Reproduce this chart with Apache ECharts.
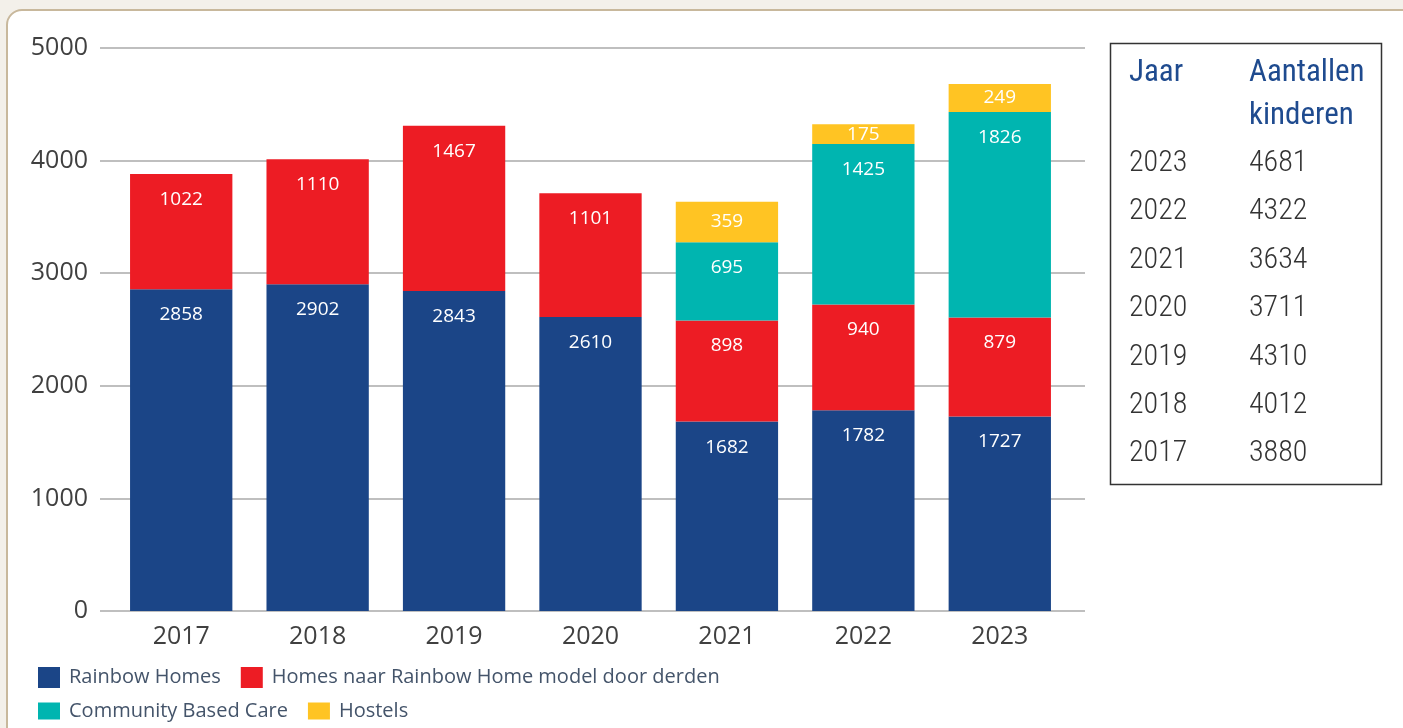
<!DOCTYPE html>
<html>
<head>
<meta charset="utf-8">
<script src="https://cdn.jsdelivr.net/npm/echarts@6/dist/echarts.min.js"></script>
<style>
  html, body { margin: 0; padding: 0; background: #f3f0ea; overflow: hidden; }
  #panel {
    position: absolute; left: 6px; top: 9px; width: 1420px; height: 740px;
    background: #fff; border: 2px solid #c8b89c; border-radius: 16px;
  }
  #main { position: absolute; left: 0; top: 0; width: 1403px; height: 728px; }
</style>
</head>
<body>
<div id="panel"></div>
<div id="main"></div>
<script>
// categorieen (jaren)
var years = ['2017', '2018', '2019', '2020', '2021', '2022', '2023'];
// aantallen per type opvang
var rainbowHomes = [2858, 2902, 2843, 2610, 1682, 1782, 1727];
var homesDerden = [1022, 1110, 1467, 1101, 898, 940, 879];
var communityCare = [null, null, null, null, 695, 1425, 1826];
var hostels = [null, null, null, null, 359, 175, 249];
// tabel rechts
var tableYears = ['2023', '2022', '2021', '2020', '2019', '2018', '2017'];
var tableTotals = [4681, 4322, 3634, 3711, 4310, 4012, 3880];

var seriesNames = ['Rainbow Homes', 'Homes naar Rainbow Home model door derden', 'Community Based Care', 'Hostels'];
var colors = ['#1b4587', '#ed1c24', '#00b5b0', '#ffc423'];

var myChart = echarts.init(document.getElementById('main'));

function barSeries(i, data, pos) {
    return {
        name: seriesNames[i],
        type: 'bar',
        stack: 'totaal',
        xAxisIndex: 1,
        yAxisIndex: 1,
        data: data,
        barWidth: '75%',
        itemStyle: { color: colors[i] },
        label: {
            show: true,
            position: pos,
            distance: 16,
            color: '#fff',
            fontSize: 19,
            fontFamily: 'Open Sans'
        }
    };
}

// tabel als graphic elementen
var tblFont = '"Roboto Condensed", "Liberation Sans Narrow", "DejaVu Sans Condensed", sans-serif';
var tableEls = [
    { type: 'rect', shape: { x: 1110.5, y: 43.5, width: 271, height: 441 },
      style: { fill: '#fff', stroke: '#333', lineWidth: 1.5 } },
    { type: 'text', x: 1129, y: 73, style: { text: 'Jaar', fill: '#1f4b8f', font: '31px ' + tblFont, verticalAlign: 'middle' } },
    { type: 'text', x: 1249, y: 73, style: { text: 'Aantallen', fill: '#1f4b8f', font: '31px ' + tblFont, verticalAlign: 'middle' } },
    { type: 'text', x: 1249, y: 116, style: { text: 'kinderen', fill: '#1f4b8f', font: '31px ' + tblFont, verticalAlign: 'middle' } }
];
tableYears.forEach(function (y, i) {
    var ty = 163.5 + i * 48.4;
    tableEls.push({ type: 'text', x: 1129, y: ty, style: { text: y, fill: '#333', font: '300 30px ' + tblFont, verticalAlign: 'middle' } });
    tableEls.push({ type: 'text', x: 1249, y: ty, style: { text: String(tableTotals[i]), fill: '#333', font: '300 30px ' + tblFont, verticalAlign: 'middle' } });
});

var legendText = { color: '#44546a', fontSize: 20, fontFamily: 'Open Sans', padding: [0, 0, 0, 4] };

myChart.setOption({
    animation: false,
    grid: [
        { left: 100, right: 318, top: 48, bottom: 117 },
        { left: 113, right: 335, top: 48, bottom: 117 }
    ],
    legend: [
        { top: 662, left: 33, itemWidth: 22, itemHeight: 21, itemGap: 20, icon: 'rect',
          textStyle: legendText, data: [seriesNames[0], seriesNames[1]] },
        { top: 696, left: 33, itemWidth: 22, itemHeight: 17, itemGap: 20, icon: 'rect',
          textStyle: legendText, data: [seriesNames[2], seriesNames[3]] }
    ],
    xAxis: [
        { type: 'category', gridIndex: 0, data: years, show: false },
        {
            type: 'category',
            gridIndex: 1,
            data: years,
            axisTick: { show: false },
            axisLine: { show: false },
            axisLabel: { color: '#404040', fontSize: 25, fontFamily: 'Open Sans', margin: 13 }
        }
    ],
    yAxis: [
        {
            type: 'value',
            gridIndex: 0,
            min: 0,
            max: 5000,
            interval: 1000,
            axisLine: { show: false },
            axisTick: { show: false },
            splitLine: { lineStyle: { color: '#bfbfbf', width: 2 } },
            axisLabel: { color: '#404040', fontSize: 25, fontFamily: 'Open Sans', margin: 12,
                         formatter: function (v) { return String(v); } }
        },
        { type: 'value', gridIndex: 1, min: 0, max: 5000, interval: 1000, show: false, splitLine: { show: false } }
    ],
    series: [
        barSeries(0, rainbowHomes, 'insideTop'),
        barSeries(1, homesDerden, 'insideTop'),
        barSeries(2, communityCare, 'insideTop'),
        barSeries(3, hostels, 'inside')
    ],
    graphic: tableEls
});
</script>
</body>
</html>
